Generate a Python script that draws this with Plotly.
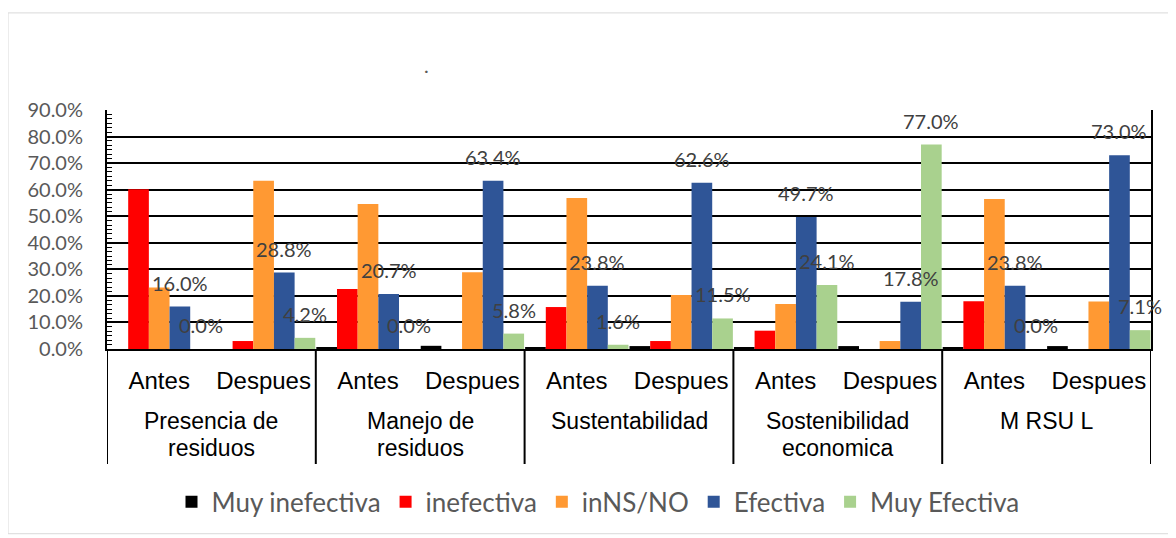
import plotly.graph_objects as go

# Datos (porcentajes)
grupos = ["Presencia de\nresiduos", "Manejo de\nresiduos", "Sustentabilidad",
          "Sostenibilidad\neconomica", "M RSU L"]
fases = ["Antes", "Despues"]

muy_inefectiva = [0.0, 0.0, 0.7, 1.2, 0.7, 1.1, 0.7, 1.1, 0.7, 1.1]
inefectiva = [60.2, 3.0, 22.6, 0.0, 15.8, 3.0, 6.9, 0.0, 18.0, 0.0]
ins_no = [23.2, 63.4, 54.6, 28.9, 56.9, 20.3, 16.9, 3.0, 56.5, 17.9]
efectiva = [16.0, 28.8, 20.7, 63.4, 23.8, 62.6, 49.7, 17.8, 23.8, 73.0]
muy_efectiva = [0.0, 4.2, 0.0, 5.8, 1.6, 11.5, 24.1, 77.0, 0.0, 7.1]

series = [
    ("Muy inefectiva", muy_inefectiva, "#000000"),
    ("inefectiva", inefectiva, "#FF0000"),
    ("inNS/NO", ins_no, "#FF9933"),
    ("Efectiva", efectiva, "#2F5597"),
    ("Muy Efectiva", muy_efectiva, "#A9D18E"),
]

n = len(grupos) * len(fases)
xs = list(range(n))
ticktext = [f for _ in grupos for f in fases]
bargap = 0.01

# área de trazado en coordenadas de página (el body añade 8 px de margen)
PL, PR, PT, PB = 107, 1151, 109.5, 349.5
pw, ph = PR - PL, PB - PT
def py(yp):  # y de página -> y paper
    return (PB - yp) / ph
def px_(xp):  # x de página -> x paper
    return (xp - PL) / pw

fig = go.Figure()
for name, vals, color in series:
    fig.add_trace(go.Bar(x=xs, y=vals, name=name, marker_color=color,
                         marker_line_width=0))

# etiquetas de datos (serie Efectiva y Muy Efectiva)
bw = (1 - bargap) / len(series)
for si in (3, 4):
    off = -(1 - bargap) / 2 + bw * (si + 0.5)
    for i, v in enumerate(series[si][1]):
        fig.add_annotation(x=i + off, y=v, text=f"{v:.1f}%", showarrow=False,
                           yanchor="middle", yshift=24,
                           font=dict(family="Lato", size=20, color="#404040"))

# etiquetas de grupo y divisores
for g, label in enumerate(grupos):
    for k, line in enumerate(label.split("\n")):
        fig.add_annotation(x=2 * g + 0.5, xref="x", yref="paper",
                           y=py(422 + 27 * k), yanchor="middle",
                           text=line, showarrow=False,
                           font=dict(family="Liberation Sans", size=23, color="#000000"))
for b in range(len(grupos) + 1):
    fig.add_shape(type="line", xref="x", yref="paper", x0=2 * b - 0.5, x1=2 * b - 0.5,
                  y0=0, y1=py(465), line=dict(color="black", width=2))

# título (solo un punto)
fig.add_annotation(x=px_(422), y=py(50), xref="paper", yref="paper",
                   text=".", showarrow=False,
                   font=dict(family="Lato", size=20, color="#595959"))

# borde del área del gráfico
fig.add_shape(type="rect", xref="paper", yref="paper",
              x0=px_(8), x1=px_(1169), y0=py(535), y1=py(12),
              line=dict(color="#D9D9D9", width=1))

fig.update_layout(
    width=1176, height=538,
    margin=dict(l=PL - 8, r=1176 - (PR - 8), t=PT - 8, b=538 - (PB - 8)),
    barmode="group", bargap=bargap, bargroupgap=0,
    plot_bgcolor="white", paper_bgcolor="white",
    showlegend=True,
    legend=dict(orientation="h", x=px_(598), xanchor="center", y=py(503),
                yanchor="middle", font=dict(family="Lato", size=26, color="#595959"),
                itemsizing="constant"),
)
fig.update_xaxes(range=[-0.5, n - 0.5], tickvals=xs, ticktext=ticktext,
                 showline=True, linecolor="black", linewidth=2, ticks="",
                 showgrid=False, zeroline=False, ticklabelstandoff=9,
                 tickfont=dict(family="Liberation Sans", size=24, color="#000000"))
fig.update_yaxes(range=[0, 90], dtick=10, tickformat=".1f", ticksuffix="%",
                 showgrid=True, gridcolor="black", gridwidth=2,
                 showline=True, linecolor="black", linewidth=2, mirror=True,
                 zeroline=False, ticks="inside", ticklen=5, tickcolor="black",
                 minor=dict(ticks="inside", dtick=10 / 6, ticklen=5, tickcolor="black"),
                 ticklabelstandoff=18,
                 tickfont=dict(family="Lato", size=20, color="#595959"))

fig.write_html("out.html")
